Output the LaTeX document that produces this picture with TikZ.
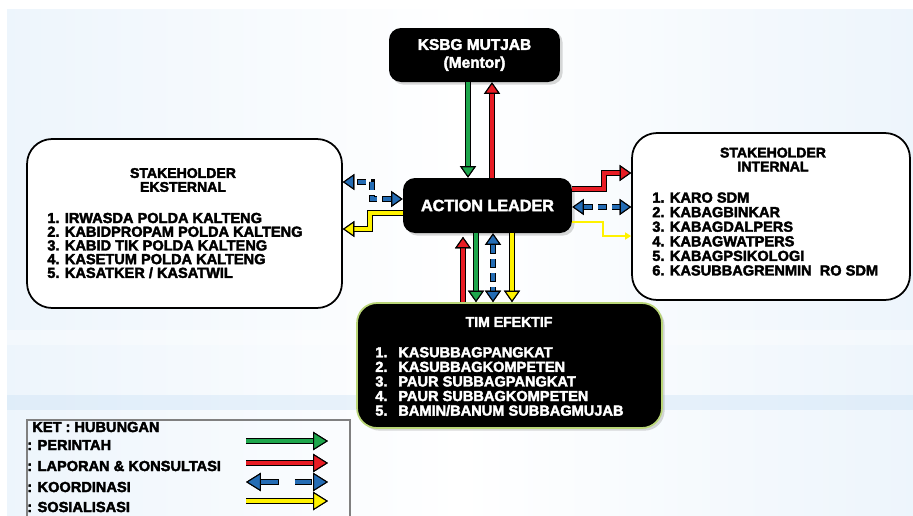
\documentclass[tikz,border=0pt]{standalone}
\usepackage{fontspec}
\setmainfont{Liberation Sans}[BoldFeatures={FakeBold=2.6}]
\usetikzlibrary{arrows.meta,shadows}

\definecolor{pgreen}{RGB}{30,166,76}
\definecolor{pred}{RGB}{232,28,36}
\definecolor{kblue}{RGB}{36,108,180}
\definecolor{syellow}{RGB}{255,242,0}
\definecolor{bgblue}{RGB}{198,223,245}
\definecolor{timedge}{RGB}{186,214,120}

\tikzset{
  whitebox/.style={draw=black, line width=1pt, fill=white, rounded corners=0.5cm},
  blackbox/.style={fill=black, rounded corners=0.24cm, text=white,
    drop shadow={opacity=0.3, shadow xshift=1.5pt, shadow yshift=-1.5pt}},
  head/.style={font=\bfseries\fontsize{8}{7.9}\selectfont, align=center, inner sep=0pt},
  items/.style={font=\bfseries\fontsize{8.3}{8.3}\selectfont, align=left, inner sep=0pt, anchor=west},
  blk/.style={draw=#1, line width=2.2pt,
    -{Triangle[length=6.5pt, width=9pt, line width=0.6pt, color=black, fill=#1]},
    preaction={draw=black, line width=3.6pt,
      -{Triangle[length=6.5pt, width=9pt, line width=0.6pt, color=black, fill=#1]}}},
  koord/.style={draw=kblue, line width=2.2pt, dash pattern=on 4.2pt off 3.8pt, dash phase=7.6pt,
    {Triangle[length=6.5pt, width=9pt, line width=0.6pt, color=black, fill=kblue]}-{Triangle[length=6.5pt, width=9pt, line width=0.6pt, color=black, fill=kblue]},
    preaction={draw=black, line width=3.6pt, dash pattern=on 5pt off 3pt,
      {Triangle[length=6.5pt, width=9pt, line width=0.6pt, color=black, fill=kblue]}-{Triangle[length=6.5pt, width=9pt, line width=0.6pt, color=black, fill=kblue]}}},
  sosthin/.style={draw=syellow, line width=1.1pt, -{Triangle[length=3.5pt, width=4pt]}},
  legarr/.style={draw=#1, line width=2.4pt,
    -{Triangle[length=8.5pt, width=10.5pt, line width=0.6pt, color=black, fill=#1]},
    preaction={draw=black, line width=3.8pt,
      -{Triangle[length=8.5pt, width=10.5pt, line width=0.6pt, color=black, fill=#1]}}},
  legkoord/.style={draw=kblue, line width=2.4pt, dash pattern=on 9.2pt off 9.8pt, dash phase=18.6pt,
    {Triangle[length=8.5pt, width=10.5pt, line width=0.6pt, color=black, fill=kblue]}-{Triangle[length=8.5pt, width=10.5pt, line width=0.6pt, color=black, fill=kblue]},
    preaction={draw=black, line width=3.8pt, dash pattern=on 10pt off 9pt,
      {Triangle[length=8.5pt, width=10.5pt, line width=0.6pt, color=black, fill=kblue]}-{Triangle[length=8.5pt, width=10.5pt, line width=0.6pt, color=black, fill=kblue]}}}
}

\pgfdeclarehorizontalshading{bgshade}{100bp}{color(0bp)=(bgblue); color(22bp)=(bgblue!35!white); color(50bp)=(white); color(78bp)=(bgblue!35!white); color(100bp)=(bgblue)}

\begin{document}
\begin{tikzpicture}[x=0.02cm, y=-0.02cm]
\useasboundingbox (0,0) rectangle (913,515);
\clip (0,0) rectangle (913,515);
\fill[white] (0,0) rectangle (913,515);
\shade[shading=bgshade] (7,9) rectangle (913,515);
\fill[white, opacity=0.35] (7,330) rectangle (913,345);
\fill[bgblue, opacity=0.35] (7,395) rectangle (913,410);

\node (men) at (474.5,55) [blackbox, minimum width=3.42cm, minimum height=1.08cm, align=center,
  font=\bfseries\fontsize{8.8}{10.2}\selectfont] {KSBG MUTJAB\\(Mentor)};
\node (act) at (487.5,205.5) [blackbox, minimum width=3.38cm, minimum height=1.1cm,
  font=\bfseries\fontsize{9.2}{9.2}\selectfont] {ACTION LEADER};

\node (eks) at (184.5,223.5) [whitebox, minimum width=6.3cm, minimum height=3.38cm] {};
\node (ekshead) at (183,180) [head] {STAKEHOLDER\\EKSTERNAL};
\node (ekslist) at (47,245.5) [items, font=\bfseries\fontsize{8.3}{7.8}\selectfont] {1. IRWASDA POLDA KALTENG\\2. KABIDPROPAM POLDA KALTENG\\3. KABID TIK POLDA KALTENG\\4. KASETUM POLDA KALTENG\\5. KASATKER / KASATWIL};

\node (int) at (771,216.5) [whitebox, minimum width=5.56cm, minimum height=3.34cm] {};
\node (inthead) at (773,159.5) [head] {STAKEHOLDER\\INTERNAL};
\node (intlist) at (652,234) [items] {1. KARO SDM\\2. KABAGBINKAR\\3. KABAGDALPERS\\4. KABAGWATPERS\\5. KABAGPSIKOLOGI\\6. KASUBBAGRENMIN\ \ RO SDM};

\node (tim) at (509.5,365.5) [blackbox, draw=timedge, line width=1pt, rounded corners=0.4cm,
  minimum width=6.1cm, minimum height=2.5cm] {};
\node (timhead) at (509,322) [head, text=white] {TIM EFEKTIF};
\node (timlist) at (375,381.5) [items, text=white] {\makebox[0.46cm][l]{1.}KASUBBAGPANGKAT\\\makebox[0.46cm][l]{2.}KASUBBAGKOMPETEN\\\makebox[0.46cm][l]{3.}PAUR SUBBAGPANGKAT\\\makebox[0.46cm][l]{4.}PAUR SUBBAGKOMPETEN\\\makebox[0.46cm][l]{5.}BAMIN/BANUM SUBBAGMUJAB};

\draw[blk=pgreen] (men.south -| 468,0) -- (act.north -| 468,0);
\draw[blk=pred] (act.north -| 492,0) -- (men.south -| 492,0);

\draw[blk=pred] (tim.north -| 463,0) -- ([yshift=-2pt]act.south -| 463,0);
\draw[blk=pgreen] (act.south -| 476,0) -- (tim.north -| 476,0);
\draw[koord] (act.south -| 493,0) -- (tim.north -| 493,0);
\draw[blk=syellow] (act.south -| 512,0) -- (tim.north -| 512,0);

\draw[blk=pred] (act.east |- 0,189) -| (604,173) -- (int.west |- 0,173);
\draw[koord] (act.east |- 0,207) -- (int.west |- 0,207);
\draw[sosthin] (act.east |- 0,222) -| (603,236) -- (int.west |- 0,236);

\draw[koord] (act.west |- 0,199) -| (372,182) -- (eks.east |- 0,182);
\draw[blk=syellow] (act.west |- 0,213) -| (370,229) -- (eks.east |- 0,229);

\node (ket) at (188.5,475) [draw=gray, line width=0.8pt, minimum width=6.46cm, minimum height=2.2cm] {};
\node (kethead) at (32,427) [items] {KET : HUBUNGAN};
\node (ket1) at (27,445) [items] {: PERINTAH};
\node (ket2) at (27,466) [items] {: LAPORAN \& KONSULTASI};
\node (ket3) at (27,487) [items] {: KOORDINASI};
\node (ket4) at (27,507) [items] {: SOSIALISASI};

\coordinate (g1) at (246,441);
\coordinate (g2) at (328,441);
\coordinate (r1) at (246,463);
\coordinate (r2) at (328,463);
\coordinate (b1) at (246,482);
\coordinate (b2) at (328,482);
\coordinate (y1) at (246,501);
\coordinate (y2) at (328,501);
\draw[legarr=pgreen] (g1) -- (g2);
\draw[legarr=pred] (r1) -- (r2);
\draw[legkoord] (b1) -- (b2);
\draw[legarr=syellow] (y1) -- (y2);

\end{tikzpicture}
\end{document}
